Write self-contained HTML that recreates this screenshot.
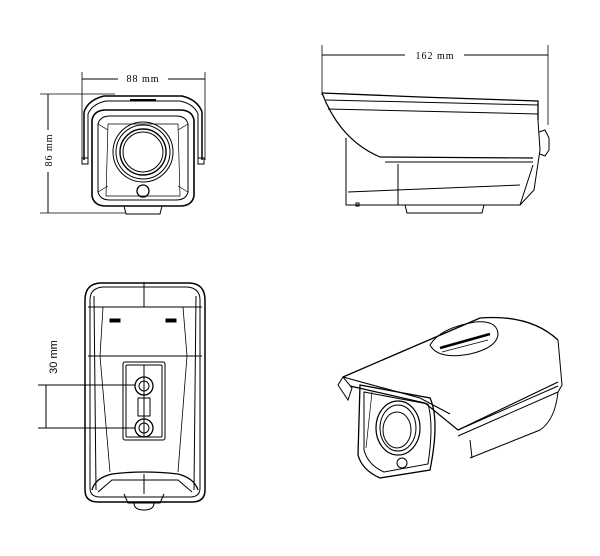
<!DOCTYPE html>
<html><head><meta charset="utf-8"><style>
html,body{margin:0;padding:0;background:#fff;}
svg{display:block;}
text{font-family:"Liberation Serif",serif;fill:#000;}
</style></head><body>
<svg width="600" height="556" viewBox="0 0 600 556" xmlns="http://www.w3.org/2000/svg" fill="none" stroke="#000" stroke-width="1">
<!-- FRONT VIEW -->
<g>
<line x1="82" y1="72" x2="82" y2="160" stroke-width="0.8"/>
<line x1="205" y1="72" x2="205" y2="160" stroke-width="0.8"/>
<line x1="82" y1="79" x2="118" y2="79"/>
<line x1="168" y1="79" x2="205" y2="79"/>
<text x="143" y="82" font-size="10" text-anchor="middle" stroke="none" letter-spacing="1">88 mm</text>
<line x1="40" y1="94" x2="115" y2="94" stroke-width="0.8"/>
<line x1="40" y1="213" x2="125" y2="213" stroke-width="0.8"/>
<line x1="48" y1="94" x2="48" y2="130"/>
<line x1="48" y1="172" x2="48" y2="213"/>
<text x="0" y="0" font-size="10" text-anchor="middle" stroke="none" transform="translate(52,150) rotate(-90)" letter-spacing="1">86 mm</text>
<path d="M84 160 L84 112 Q88 100 104 96 L182 96 Q198 100 202 112 L202 160" stroke-width="1.5"/>
<path d="M88 158 L88 114 Q92 104 106 101 L180 101 Q194 104 198 114 L198 158"/>
<line x1="130" y1="100" x2="156" y2="100" stroke-width="2"/>
<rect x="82" y="158" width="6" height="6"/>
<rect x="198" y="158" width="6" height="6"/>
<path d="M92 120 Q94 110 106 110 L180 110 Q192 110 194 120 L194 196 Q192 206 180 206 L106 206 Q94 206 92 196 Z" stroke-width="1.6"/>
<path d="M98 124 Q100 116 110 116 L176 116 Q186 116 188 124 L188 192 Q186 200 176 200 L110 200 Q100 200 98 192 Z"/>
<path d="M108 124 L178 124 L180 196 L106 196 Z" stroke-width="0.7"/>
<line x1="98" y1="124" x2="108" y2="130" stroke-width="0.7"/>
<line x1="188" y1="124" x2="178" y2="130" stroke-width="0.7"/>
<line x1="98" y1="192" x2="108" y2="186" stroke-width="0.7"/>
<line x1="188" y1="192" x2="178" y2="186" stroke-width="0.7"/>
<circle cx="143" cy="152" r="30"/>
<circle cx="143" cy="152" r="27"/>
<circle cx="143" cy="152" r="23" stroke-width="1.4"/>
<circle cx="143" cy="152" r="20"/>
<circle cx="143" cy="191" r="6" stroke-width="1.3"/>
<path d="M124 206 L126 214 L160 214 L162 206"/>
</g>
<!-- SIDE VIEW -->
<g>
<line x1="322" y1="45" x2="322" y2="95" stroke-width="0.8"/>
<line x1="548" y1="45" x2="548" y2="125" stroke-width="0.8"/>
<line x1="322" y1="55" x2="405" y2="55"/>
<line x1="464" y1="55" x2="548" y2="55"/>
<text x="435" y="59" font-size="10" text-anchor="middle" stroke="none" letter-spacing="1">162 mm</text>
<path d="M322 93 L420 97 L538 101 L538 120" stroke-width="1.3"/>
<line x1="326" y1="100" x2="538" y2="105"/>
<line x1="328" y1="109" x2="538" y2="114"/>
<path d="M322 93 Q340 140 380 157 L533 158" stroke-width="1.2"/>
<line x1="385" y1="162" x2="533" y2="162"/>
<path d="M346 138 L346 205 L520 205 L533 165"/>
<line x1="348" y1="192" x2="520" y2="185"/>
<line x1="398" y1="164" x2="398" y2="205"/>
<path d="M538 120 L540 150 L534 190 L520 205"/>
<path d="M539 132 L545 130 L549 138 L549 150 L545 156 L540 154"/>
<rect x="356" y="203" width="3" height="3"/>
<path d="M405 205 L407 213 L482 213 L484 205"/>
</g>
<!-- BOTTOM VIEW -->
<g>
<path d="M85 300 Q85 284 100 283 L190 283 Q205 284 205 300 L205 490 Q205 502 192 502 L98 502 Q85 502 85 490 Z" stroke-width="1.5"/>
<path d="M90 300 Q90 288 103 287 L187 287 Q200 288 200 300 L200 488 Q200 497 190 497 L100 497 Q90 497 90 488 Z"/>
<line x1="94" y1="296" x2="96" y2="490"/>
<line x1="196" y1="296" x2="194" y2="490"/>
<line x1="144" y1="283" x2="144" y2="307"/>
<line x1="88" y1="307" x2="202" y2="307"/>
<line x1="88" y1="356" x2="202" y2="356"/>
<path d="M103 307 L100 356 M183 307 L187 356" stroke-width="0.8"/>
<path d="M100 356 L110 472 M187 356 L178 472" stroke-width="0.8"/>
<rect x="110" y="319" width="10" height="3" fill="#000"/>
<rect x="166" y="319" width="10" height="3" fill="#000"/>
<rect x="123" y="362" width="42" height="78" rx="2"/>
<rect x="126" y="365" width="36" height="72" rx="1"/>
<line x1="144" y1="365" x2="144" y2="437"/>
<rect x="138" y="398" width="12" height="18"/>
<circle cx="144" cy="386" r="9" stroke-width="1.3"/>
<circle cx="144" cy="386" r="5"/>
<circle cx="144" cy="428" r="9" stroke-width="1.3"/>
<circle cx="144" cy="428" r="5"/>
<line x1="38" y1="385" x2="135" y2="385"/>
<line x1="38" y1="428" x2="135" y2="428"/>
<line x1="46" y1="385" x2="46" y2="428"/>
<text x="0" y="0" font-size="11" text-anchor="middle" stroke="none" transform="translate(57,357) rotate(-90)" style="font-family:'Liberation Sans',sans-serif">30 mm</text>
<path d="M92 490 Q95 478 112 474 Q144 470 178 474 Q194 478 198 490" stroke-width="1.3"/>
<path d="M98 492 L112 480 L178 480 L192 492"/>
<line x1="144" y1="474" x2="144" y2="494"/>
<path d="M124 494 L128 503 L160 503 L164 494"/>
<path d="M134 503 Q134 510 144 510 Q154 510 154 503"/>
</g>
<!-- ISO VIEW -->
<g>
<path d="M343 377 L480 318 Q530 314 558 340" stroke-width="1.3"/>
<path d="M343 377 L338 385 L348 400 L352 388 Z"/>
<path d="M343 377 L420 398 L450 414" stroke-width="1.1"/>
<path d="M350 386 L425 403 L458 430 L558 382" stroke-width="1.2"/>
<path d="M558 340 L562 385 L558 392"/>
<line x1="458" y1="430" x2="558" y2="386"/>
<line x1="458" y1="436" x2="558" y2="392"/>
<path d="M558 392 Q555 420 540 430 L470 458"/>
<line x1="470" y1="440" x2="472" y2="458"/>
<path d="M360 385 L430 398 Q440 420 430 470 L380 478 Q362 470 358 455 Z" stroke-width="1.3"/>
<path d="M364 392 L428 404 Q434 425 428 464 L384 472 Q368 465 364 450 Z"/>
<line x1="372" y1="392" x2="366" y2="448" stroke-width="0.7"/>
<ellipse cx="398" cy="428" rx="22" ry="27" stroke-width="1.2"/>
<ellipse cx="398" cy="428" rx="18" ry="23"/>
<ellipse cx="397" cy="430" rx="14" ry="18"/>
<circle cx="402" cy="463" r="5"/>
<path d="M430 345 Q440 328 475 322 Q498 320 498 335 Q496 348 470 354 Q438 360 430 345 Z"/>
<path d="M440 348 L490 334" stroke-width="2.5"/>
<path d="M442 352 L488 340" stroke-width="0.7"/>
</g>
</svg>
</body></html>
